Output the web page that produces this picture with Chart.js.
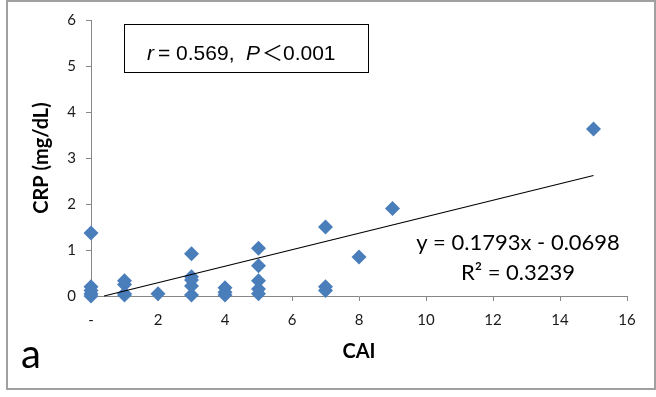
<!DOCTYPE html>
<html>
<head>
<meta charset="utf-8">
<script src="https://cdn.jsdelivr.net/npm/chart.js@4/dist/chart.umd.min.js"></script>
<style>
  body { margin: 0; background: #fff; }
  canvas { display: block; }
</style>
</head>
<body>
<canvas id="crpChart" width="656" height="397"></canvas>
<script>
// CAI score per patient and the matching CRP value (mg/dL)
const caiValues = [0, 0, 0, 0, 0, 1, 1, 1, 1, 2, 3, 3, 3, 3, 3, 4, 4, 4, 5, 5, 5, 5, 5, 7, 7, 7, 8, 9, 15];
const crpValues = [1.37, 0.2, 0.12, 0.05, 0.0, 0.33, 0.25, 0.05, 0.02, 0.05, 0.92, 0.42, 0.35, 0.22, 0.02,
  0.18, 0.08, 0.02, 1.04, 0.66, 0.33, 0.15, 0.05, 1.5, 0.2, 0.12, 0.85, 1.9, 3.63];

const slope = 0.1793;
const intercept = -0.0698;
const trendX = [-intercept / slope, 15];

const xTicks = [0, 2, 4, 6, 8, 10, 12, 14, 16];
const yTicks = [0, 1, 2, 3, 4, 5, 6];

const eqLines = ['y = 0.1793x - 0.0698', 'R² = 0.3239'];
const panelLabel = 'a';

const points = caiValues.map((x, i) => ({ x, y: crpValues[i] }));
const trend = trendX.map((x) => ({ x, y: slope * x + intercept }));

const latin = '21px "Liberation Sans", Arial';
const latinItalic = 'italic 21px "Liberation Sans", Arial';
// stats box pieces: text, left x, font
const statParts = [
  ['r', 147, latinItalic],
  ['= 0.569,', 158, latin],
  ['P', 246, latinItalic],
  ['＜', 262, '21px "Noto Sans CJK JP"'],
  ['0.001', 283, latin],
];

const annotations = {
  id: 'annotations',
  afterDraw(chart) {
    const { ctx } = chart;
    ctx.save();

    // outer frame
    ctx.strokeStyle = '#a0a0a0';
    ctx.lineWidth = 2;
    ctx.strokeRect(7, 1, 648, 388);

    // stats box
    ctx.strokeStyle = '#000';
    ctx.lineWidth = 1;
    ctx.strokeRect(124.5, 24.5, 244, 48);
    ctx.fillStyle = '#000';
    ctx.textBaseline = 'alphabetic';
    ctx.textAlign = 'left';
    statParts.forEach(([text, x, font]) => {
      ctx.font = font;
      ctx.fillText(text, x, 60);
    });

    // regression equation
    ctx.font = '22px Lato';
    ctx.textAlign = 'center';
    ctx.fillText(eqLines[0], 518, 250);
    ctx.fillText(eqLines[1], 518, 280);

    // panel letter
    ctx.font = '40px Lato';
    ctx.textAlign = 'left';
    ctx.fillText(panelLabel, 21, 368);

    ctx.restore();
  },
};

new Chart(document.getElementById('crpChart'), {
  type: 'scatter',
  data: {
    datasets: [
      {
        type: 'line',
        data: trend,
        borderColor: '#000',
        borderWidth: 1.2,
        pointRadius: 0,
        fill: false,
        clip: false,
      },
      {
        data: points,
        pointStyle: 'rectRot',
        pointRadius: 7.5,
        pointHoverRadius: 7.5,
        backgroundColor: '#4A7EBB',
        borderColor: '#4A7EBB',
        borderWidth: 0,
        clip: false,
      },
    ],
  },
  options: {
    responsive: false,
    animation: false,
    devicePixelRatio: 1,
    layout: { padding: { left: 0, top: 20, right: 29, bottom: 0 } },
    plugins: {
      legend: { display: false },
      tooltip: { enabled: false },
    },
    scales: {
      x: {
        type: 'linear',
        min: 0,
        max: 16,
        afterFit: (scale) => { scale.height = 101; },
        afterBuildTicks: (scale) => { scale.ticks = xTicks.map((value) => ({ value })); },
        border: { color: '#878787', width: 1 },
        grid: { drawOnChartArea: false, drawTicks: true, tickLength: 5, color: '#878787' },
        ticks: {
          padding: 10,
          color: '#1a1a1a',
          font: { family: 'Lato', size: 15 },
          callback: (v) => (v === 0 ? '-' : v),
        },
        title: {
          display: true,
          text: 'CAI',
          color: '#000',
          font: { family: 'Lato', size: 20, weight: 'bold' },
          padding: { top: 0, bottom: 33 },
        },
      },
      y: {
        type: 'linear',
        min: 0,
        max: 6,
        afterFit: (scale) => { scale.width = 91; },
        afterBuildTicks: (scale) => { scale.ticks = yTicks.map((value) => ({ value })); },
        border: { color: '#878787', width: 1 },
        grid: { drawOnChartArea: false, drawTicks: true, tickLength: 5, color: '#878787' },
        ticks: {
          padding: 10,
          color: '#1a1a1a',
          font: { family: 'Lato', size: 15 },
        },
        title: {
          display: true,
          text: 'CRP (mg/dL)',
          color: '#000',
          font: { family: 'Lato', size: 20, weight: 'bold' },
          padding: { top: 30, bottom: 0 },
        },
      },
    },
  },
  plugins: [annotations],
});
</script>
</body>
</html>
